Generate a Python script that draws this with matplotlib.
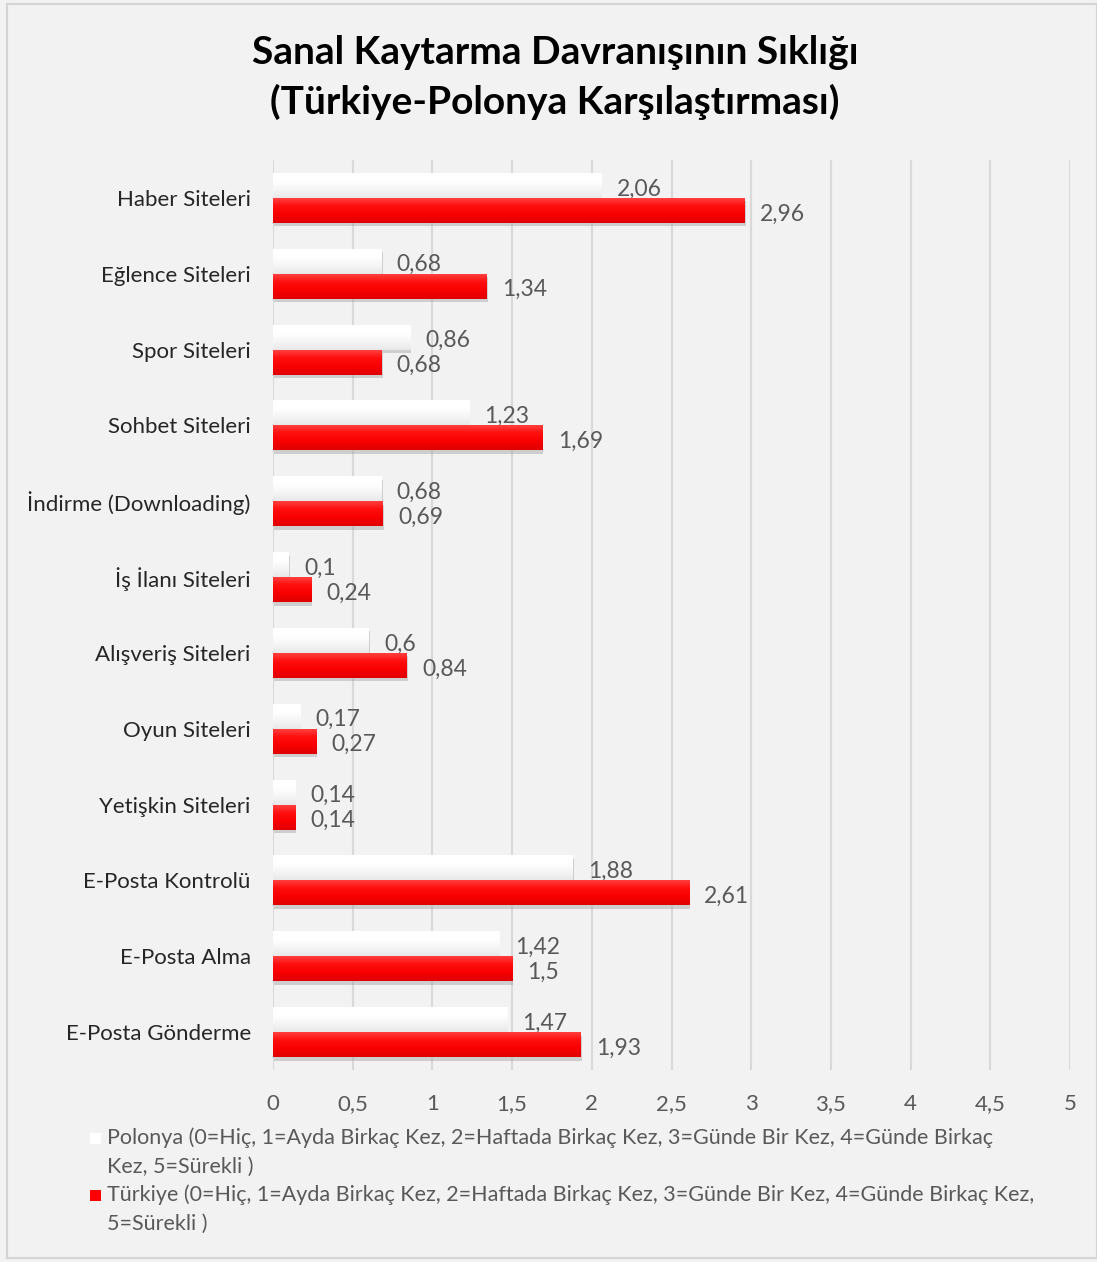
import numpy as np
import matplotlib
matplotlib.use("Agg")
import matplotlib.pyplot as plt
import matplotlib.patheffects as pe
from matplotlib.colors import LinearSegmentedColormap
from matplotlib.patches import Rectangle

plt.rcParams['font.family'] = ['Lato', 'DejaVu Sans']

categories = ["Haber Siteleri", "Eğlence Siteleri", "Spor Siteleri", "Sohbet Siteleri",
              "İndirme (Downloading)", "İş İlanı Siteleri", "Alışveriş Siteleri",
              "Oyun Siteleri", "Yetişkin Siteleri", "E-Posta Kontrolü",
              "E-Posta Alma", "E-Posta Gönderme"]
polonya = [2.06, 0.68, 0.86, 1.23, 0.68, 0.10, 0.60, 0.17, 0.14, 1.88, 1.42, 1.47]
turkiye = [2.96, 1.34, 0.68, 1.69, 0.69, 0.24, 0.84, 0.27, 0.14, 2.61, 1.50, 1.93]
xticks = [0, 0.5, 1, 1.5, 2, 2.5, 3, 3.5, 4, 4.5, 5]

leg_pl = "Polonya (0=Hiç, 1=Ayda Birkaç Kez, 2=Haftada Birkaç Kez, 3=Günde Bir Kez, 4=Günde Birkaç\nKez, 5=Sürekli )"
leg_tr = "Türkiye (0=Hiç, 1=Ayda Birkaç Kez, 2=Haftada Birkaç Kez, 3=Günde Bir Kez, 4=Günde Birkaç Kez,\n5=Sürekli )"

BG = "#f2f2f2"
TXT = "#595959"
FS = 16
W, H = 1097, 1262


def fmt(v):
    s = ("%.2f" % v).rstrip("0").rstrip(".")
    return s.replace(".", ",")


fig = plt.figure(figsize=(W / 100, H / 100), dpi=100, facecolor=BG)
fig.patches.append(Rectangle((7 / W, 4 / H), 1 - 7 / W, 1 - 8 / H,
                             transform=fig.transFigure, fill=False,
                             edgecolor="#d4d4d4", linewidth=1.5))
ax = fig.add_axes([273 / W, 1 - 1070 / H, (1070 - 273) / W, 910 / H])
ax.set_facecolor(BG)

y = np.arange(len(categories))
h = 0.33

shadow = [pe.SimplePatchShadow(offset=(0.8, -2.5), shadow_rgbFace="#8c8c8c", alpha=0.35),
          pe.Normal()]
b1 = ax.barh(y - h / 2, polonya, height=h, color="white", zorder=3, path_effects=shadow)
b2 = ax.barh(y + h / 2, turkiye, height=h, color="#ff0000", zorder=3, path_effects=shadow)

# gradient fills clipped to each bar
grad = np.linspace(0, 1, 64).reshape(-1, 1)
cm_white = LinearSegmentedColormap.from_list("w", ["#ffffff", "#ffffff", "#f6f6f6", "#e8e8e8"])
cm_red = LinearSegmentedColormap.from_list("r", ["#ff4545", "#ff1010", "#f80000", "#e00000"])
for bars, cm in [(b1, cm_white), (b2, cm_red)]:
    for p in bars:
        x0, y0, w, hh = p.get_x(), p.get_y(), p.get_width(), p.get_height()
        im = ax.imshow(grad, extent=[x0, x0 + w, y0 + hh, y0], aspect="auto",
                       cmap=cm, zorder=4, interpolation="bilinear")
        im.set_clip_path(p)

for bars, vals in [(b1, polonya), (b2, turkiye)]:
    for p, v in zip(bars, vals):
        ax.annotate(fmt(v), (p.get_width(), p.get_y() + p.get_height() / 2),
                    xytext=(11, -2.5), textcoords="offset points", ha="left", va="center",
                    fontsize=FS + 0.5, color=TXT)

ax.set_xlim(0, 5)
ax.set_ylim(len(categories) - 0.5, -0.5)
ax.set_xticks(xticks)
ax.set_xticklabels([fmt(t) for t in xticks], fontsize=FS, color=TXT)
ax.set_yticks(y)
ax.set_yticklabels(categories, fontsize=FS, color="#262626")
ax.tick_params(axis="both", length=0)
ax.tick_params(axis="x", pad=17)
ax.tick_params(axis="y", pad=16)
ax.grid(axis="x", color="#d9d9d9", linewidth=1.5, zorder=0)
ax.set_axisbelow(True)
for s in ax.spines.values():
    s.set_visible(False)

fig.text(0.506, 1 - 52 / H, "Sanal Kaytarma Davranışının Sıklığı", ha="center", va="center",
         fontsize=28, fontweight="bold", color="black")
fig.text(0.506, 1 - 102 / H, "(Türkiye-Polonya Karşılaştırması)", ha="center", va="center",
         fontsize=28, fontweight="bold", color="black")

# legend, drawn by hand so the marker sits on the first line of each wrapped label
for label, col, ytop in [(leg_pl, "white", 1138), (leg_tr, "#ff0000", 1195)]:
    fig.patches.append(Rectangle((90 / W, 1 - (ytop + 6) / H), 11 / W, 11 / H,
                                 transform=fig.transFigure, facecolor=col, edgecolor="none"))
    fig.text(107 / W, 1 - (ytop - 11) / H, label, ha="left", va="top",
             fontsize=FS - 0.5, color=TXT, linespacing=1.55)

fig.savefig("out.png", dpi=100, facecolor=BG)
